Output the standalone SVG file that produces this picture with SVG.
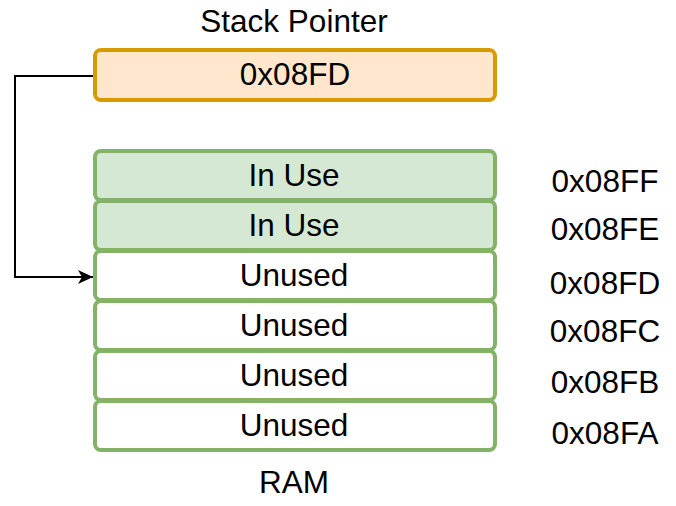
<svg xmlns="http://www.w3.org/2000/svg" width="676" height="506" viewBox="0 0 676 506">
<style>
text{font-family:"Liberation Sans",Arial,Helvetica,sans-serif;font-size:31.5px;fill:#000;text-anchor:middle}
.sp{fill:#ffe6cc;stroke:#d79b00;stroke-width:4}
.use{fill:#d5e8d4;stroke:#82b366;stroke-width:4}
.free{fill:#ffffff;stroke:#82b366;stroke-width:4}
.conn{fill:none;stroke:#000;stroke-width:2}
</style>
<defs>
<marker id="arr" markerWidth="16" markerHeight="14" refX="15" refY="7" orient="auto" markerUnits="userSpaceOnUse">
<path d="M0,0 L15,7 L0,14 L4,7 Z" fill="#000"/>
</marker>
</defs>
<g id="title"><text x="294" y="32">Stack Pointer</text></g>
<g id="stack-pointer">
<rect class="sp" x="95" y="50" width="400" height="50" rx="6"/>
<text x="295" y="85">0x08FD</text>
</g>
<g id="cell-08FF"><rect class="use" x="95" y="151" width="400" height="49" rx="6"/><text x="294" y="186">In Use</text></g>
<g id="cell-08FE"><rect class="use" x="95" y="201" width="400" height="49" rx="6"/><text x="294" y="236">In Use</text></g>
<g id="cell-08FD"><rect class="free" x="95" y="251" width="400" height="49" rx="6"/><text x="294" y="286">Unused</text></g>
<g id="cell-08FC"><rect class="free" x="95" y="301" width="400" height="49" rx="6"/><text x="294" y="336">Unused</text></g>
<g id="cell-08FB"><rect class="free" x="95" y="351" width="400" height="49" rx="6"/><text x="294" y="386">Unused</text></g>
<g id="cell-08FA"><rect class="free" x="95" y="401" width="400" height="49" rx="6"/><text x="294" y="436">Unused</text></g>
<g id="addresses">
<text x="605" y="192">0x08FF</text>
<text x="605" y="240">0x08FE</text>
<text x="605" y="294">0x08FD</text>
<text x="605" y="342">0x08FC</text>
<text x="605" y="393">0x08FB</text>
<text x="605" y="444">0x08FA</text>
</g>
<g id="ram-label"><text x="294" y="493">RAM</text></g>
<g id="connectors">
<path class="conn" d="M93,76 L15,76 L15,277 L93,277" marker-end="url(#arr)"/>
</g>
</svg>
